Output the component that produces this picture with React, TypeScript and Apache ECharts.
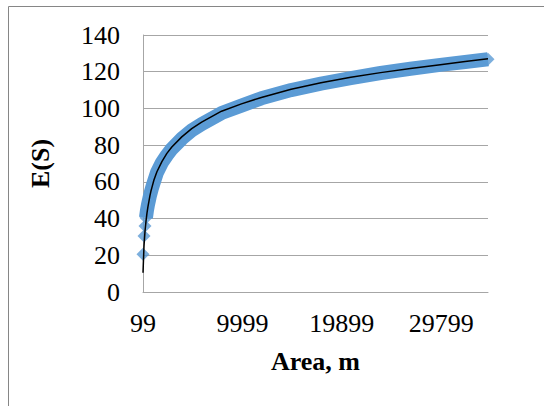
import React, { useEffect, useRef } from "react";
import * as echarts from "echarts";

// Area (m) at which values were read
const areaX = [99, 198, 297, 396, 495, 594, 693, 792, 891, 990, 1188, 1485, 1980, 2475, 2970, 3960, 4950, 5940, 6930, 7920, 9900, 11880, 14850, 17820, 20790, 23760, 26730, 29700, 32175, 34452];
// E(S) observed (blue diamonds)
const esValues = [20.5, 30.5, 36, 40.5, 44.5, 47.5, 50, 52.5, 54.5, 56.5, 60, 65, 70.5, 74.5, 78, 83.5, 88, 91.5, 94.5, 97.5, 101.5, 105.5, 110, 113.5, 116.5, 119.3, 121.6, 123.7, 125.3, 126.8];
// logarithmic trendline (black)
const trendValues = [10.5, 25, 33, 38.5, 43, 46.5, 49.5, 52.5, 55, 57, 61, 65.5, 71, 75.5, 79, 84.5, 89, 92.5, 95.5, 98.5, 102.5, 106, 110.5, 114, 117, 119.5, 121.8, 123.8, 125.5, 127];
const xTickLabels = [99, 9999, 19899, 29799];
const yTicks = { min: 0, max: 140, interval: 20 };

const FONT = "'Liberation Serif', 'Times New Roman', serif";

export default function App() {
  const ref = useRef<HTMLDivElement>(null);
  useEffect(() => {
    if (!ref.current) return;
    const chart = echarts.init(ref.current, undefined, { renderer: "svg" });
    const pairs = (vals: number[]) => areaX.map((x, i) => [x, vals[i]]);
    const esPairs = pairs(esValues);
    const trendPairs = pairs(trendValues);
    const diamondPts = esPairs.slice(0, 10).concat([esPairs[esPairs.length - 1]]);
    chart.setOption({
      animation: false,
      backgroundColor: "#ffffff",
      graphic: [
        {
          type: "rect",
          shape: { x: 8.5, y: 6.5, width: 600, height: 500 },
          style: { fill: "none", stroke: "#868686", lineWidth: 1 },
          silent: true,
        },
      ],
      grid: { left: 143, right: 56, top: 35, bottom: 114, containLabel: false },
      xAxis: {
        type: "value",
        min: areaX[0],
        max: areaX[areaX.length - 1],
        name: "Area, m",
        nameLocation: "middle",
        nameGap: 56,
        nameTextStyle: { fontFamily: FONT, fontSize: 26, fontWeight: "bold", color: "#000" },
        axisLine: { show: true, lineStyle: { color: "#A6A6A6", width: 1 } },
        axisTick: { show: false },
        splitLine: { show: false },
        axisLabel: {
          customValues: xTickLabels,
          formatter: (v: number) => String(v),
          margin: 18,
          fontFamily: FONT,
          fontSize: 26,
          color: "#000",
        },
      },
      yAxis: {
        type: "value",
        min: yTicks.min,
        max: yTicks.max,
        interval: yTicks.interval,
        name: "E(S)",
        nameLocation: "middle",
        nameRotate: 90,
        nameGap: 90,
        nameTextStyle: { fontFamily: FONT, fontSize: 26, fontWeight: "bold", color: "#000" },
        axisLine: { show: true, lineStyle: { color: "#A6A6A6", width: 1 } },
        axisTick: { show: false },
        splitLine: { show: true, lineStyle: { color: "#A6A6A6", width: 1 } },
        axisLabel: { margin: 23, fontFamily: FONT, fontSize: 26, color: "#000" },
      },
      series: [
        {
          type: "line",
          data: esPairs.slice(3),
          smooth: false,
          showSymbol: false,
          lineStyle: { color: "#5B9BD5", width: 14, cap: "butt", join: "round" },
          z: 2,
        },
        {
          type: "scatter",
          data: diamondPts,
          symbol: "diamond",
          symbolSize: 13,
          itemStyle: { color: "#5B9BD5" },
          z: 2,
        },
        {
          type: "line",
          data: trendPairs,
          smooth: false,
          showSymbol: false,
          lineStyle: { color: "#000000", width: 1.5, join: "round" },
          z: 3,
        },
      ],
    });
    return () => chart.dispose();
  }, []);
  return (
    <div
      ref={ref}
      style={{ position: "fixed", left: 0, top: 0, width: 544, height: 406, background: "#fff" }}
    />
  );
}
